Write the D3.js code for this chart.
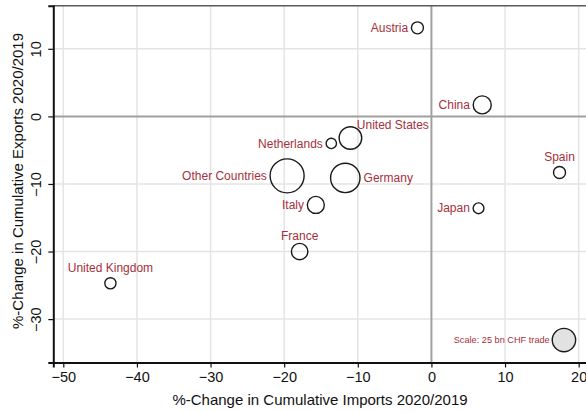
<!DOCTYPE html>
<html><head><meta charset="utf-8">
<script src="https://cdn.jsdelivr.net/npm/d3@7"></script>
<style>
html,body{margin:0;padding:0;background:#fff;}
svg{display:block;font-family:"Liberation Sans",Arial,sans-serif;}
</style></head>
<body>
<svg id="chart" width="586" height="412"></svg>
<script>
// ---- data ----
const countries = ["Austria","China","United States","Netherlands","Germany","Other Countries","Italy","France","Spain","Japan","United Kingdom"];
const importsChange = [-1.9, 6.9, -11.0, -13.6, -11.7, -19.6, -15.7, -17.9, 17.4, 6.4, -43.6];
const exportsChange = [13.1, 1.7, -3.2, -4.0, -9.1, -8.8, -13.1, -20.0, -8.3, -13.6, -24.7];
const tradeVolume   = [6.6, 14.8, 23.3, 4.9, 39.5, 52.8, 13.2, 12.3, 6.6, 5.3, 5.7]; // bn CHF
const labelClock    = [9, 9, 1, 9, 3, 9, 9, 12, 12, 9, 12];
const scaleLegend   = {label: "Scale: 25 bn CHF trade", value: 25, x: 18, y: -33.1};
const xTicks = [-50, -40, -30, -20, -10, 0, 10, 20];
const yTicks = [-30, -20, -10, 0, 10];
const xDomain = [-51.36, 21.54];
const yDomain = [-36.42, 16.38];
const xTitle = "%-Change in Cumulative Imports 2020/2019";
const yTitle = "%-Change in Cumulative Exports 2020/2019";

// ---- layout ----
const L = 53.3, R = 590, T = 5.7, B = 362.5;
const svg = d3.select("#chart");
const x = d3.scaleLinear().domain(xDomain).range([L, R]);
const y = d3.scaleLinear().domain(yDomain).range([B, T]);
const r = d3.scaleSqrt().domain([0, 25]).range([0, 11.7]);
const labelColor = "#a5303b";

// gridlines
const g = svg.append("g");
g.selectAll("line.gx").data(xTicks.filter(d => d !== 0)).join("line")
  .attr("x1", d => x(d)).attr("x2", d => x(d)).attr("y1", T).attr("y2", B)
  .attr("stroke", "#e4e4e4").attr("stroke-width", 1.5);
g.selectAll("line.gy").data(yTicks.filter(d => d !== 0)).join("line")
  .attr("x1", L).attr("x2", R).attr("y1", d => y(d)).attr("y2", d => y(d))
  .attr("stroke", "#e4e4e4").attr("stroke-width", 1.5);
// zero lines
g.append("line").attr("x1", x(0)).attr("x2", x(0)).attr("y1", T).attr("y2", B)
  .attr("stroke", "#a0a0a0").attr("stroke-width", 2);
g.append("line").attr("x1", L).attr("x2", R).attr("y1", y(0)).attr("y2", y(0))
  .attr("stroke", "#a0a0a0").attr("stroke-width", 2);
// top frame
g.append("line").attr("x1", L).attr("x2", R).attr("y1", T).attr("y2", T)
  .attr("stroke", "#5a5a5a").attr("stroke-width", 1.6);

// axes
const xAxis = svg.append("g").attr("transform", `translate(0,${B})`)
  .call(d3.axisBottom(x).tickValues(xTicks).tickSize(5).tickPadding(4).tickFormat(d3.format("d")));
xAxis.select(".domain").attr("stroke", "#111").attr("stroke-width", 2);
xAxis.selectAll(".tick line").attr("stroke", "#111").attr("stroke-width", 1.2);
xAxis.selectAll(".tick text").attr("font-size", 14.5).attr("fill", "#111")
  .attr("font-family", "Liberation Sans, Arial, sans-serif").attr("dy", "0.71em");

const yAxis = svg.append("g").attr("transform", `translate(${L},0)`)
  .call(d3.axisLeft(y).tickValues(yTicks).tickSize(5).tickFormat(d3.format("d")));
yAxis.select(".domain").attr("stroke", "#111").attr("stroke-width", 2);
yAxis.selectAll(".tick line").attr("stroke", "#111").attr("stroke-width", 1.2);
yAxis.selectAll(".tick text").attr("font-size", 14.5).attr("fill", "#111")
  .attr("font-family", "Liberation Sans, Arial, sans-serif")
  .attr("x", null).attr("dy", null).attr("text-anchor", "middle")
  .attr("transform", `translate(${40.5 - L},0) rotate(-90)`);

// titles
svg.append("text").attr("x", 320).attr("y", 405).attr("text-anchor", "middle")
  .attr("font-size", 15).attr("fill", "#111").text(xTitle);
svg.append("text").attr("transform", "translate(23,181) rotate(-90)").attr("text-anchor", "middle")
  .attr("font-size", 15).attr("fill", "#111").text(yTitle);

// points
const data = countries.map((c, i) => ({name: c, ix: importsChange[i], ex: exportsChange[i], v: tradeVolume[i], pos: labelClock[i]}));
const pts = svg.append("g");
pts.selectAll("circle").data(data).join("circle")
  .attr("cx", d => x(d.ix)).attr("cy", d => y(d.ex)).attr("r", d => r(d.v))
  .attr("fill", "none").attr("stroke", "#1a1a1a").attr("stroke-width", 1.4);

function placeLabel(sel) {
  sel.each(function(d) {
    const t = d3.select(this);
    const cx = x(d.ix), cy = y(d.ex), rr = r(d.v);
    if (d.pos === 9) {
      t.attr("x", cx - rr - 3.3).attr("y", cy).attr("dy", "0.35em").attr("text-anchor", "end");
    } else if (d.pos === 3) {
      t.attr("x", cx + rr + 3.6).attr("y", cy).attr("dy", "0.35em").attr("text-anchor", "start");
    } else if (d.pos === 12) {
      t.attr("x", cx).attr("y", cy - 16).attr("dy", "0.35em").attr("text-anchor", "middle");
    } else if (d.pos === 1) {
      t.attr("x", cx + 6.4).attr("y", cy - 13.3).attr("dy", "0.35em").attr("text-anchor", "start");
    }
  });
}
pts.selectAll("text").data(data).join("text")
  .attr("font-size", 12).attr("fill", labelColor).text(d => d.name).call(placeLabel);

// scale legend
const sl = svg.append("g");
sl.append("circle").attr("cx", x(scaleLegend.x)).attr("cy", y(scaleLegend.y)).attr("r", r(scaleLegend.value))
  .attr("fill", "#e2e2e2").attr("stroke", "#1a1a1a").attr("stroke-width", 1.4);
sl.append("text").attr("x", x(scaleLegend.x) - r(scaleLegend.value) - 2.5).attr("y", y(scaleLegend.y))
  .attr("dy", "0.35em").attr("text-anchor", "end").attr("font-size", 9.2).attr("fill", labelColor)
  .text(scaleLegend.label);
</script>
</body></html>
